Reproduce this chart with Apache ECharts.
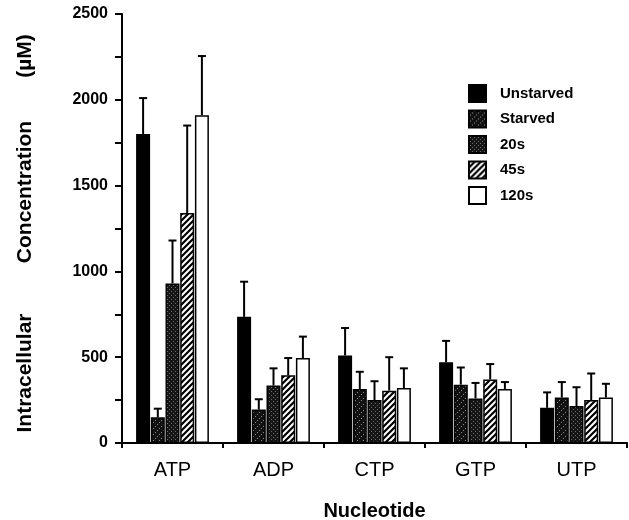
<!DOCTYPE html>
<html>
<head>
<meta charset="utf-8">
<script src="https://cdn.jsdelivr.net/npm/echarts@6/dist/echarts.min.js"></script>
<style>
  html, body { margin: 0; padding: 0; background: #fff; }
  #chart { width: 629px; height: 520px; }
</style>
</head>
<body>
<div id="chart"></div>
<script>
const categories = ['ATP', 'ADP', 'CTP', 'GTP', 'UTP'];
const seriesNames = ['Unstarved', 'Starved', '20s', '45s', '120s'];
// mean values (µM) and upper error (SD) per condition
const unstarved = [1800, 735, 510, 470, 205];
const unstarvedErr = [210, 205, 160, 125, 90];
const starved = [150, 195, 315, 340, 265];
const starvedErr = [50, 60, 100, 100, 90];
const s20 = [930, 335, 250, 260, 215];
const s20Err = [250, 100, 110, 90, 110];
const s45 = [1340, 395, 305, 370, 250];
const s45Err = [510, 100, 195, 90, 155];
const s120 = [1910, 495, 320, 315, 265];
const s120Err = [345, 125, 115, 40, 80];
const yTicks = [0, 500, 1000, 1500, 2000, 2500];

const means = [unstarved, starved, s20, s45, s120];
const errs = [unstarvedErr, starvedErr, s20Err, s45Err, s120Err];

function makePattern(kind) {
  const c = document.createElement('canvas');
  const ctx = c.getContext('2d');
  if (kind === 'starved') {
    c.width = 6; c.height = 6;
    ctx.fillStyle = '#111';
    ctx.fillRect(0, 0, 6, 6);
    ctx.fillStyle = '#8a8a8a';
    ctx.fillRect(5, 0, 1, 1);
    ctx.fillRect(3, 2, 1, 1);
    ctx.fillRect(1, 4, 1, 1);
  } else if (kind === 'stipple') {
    c.width = 4; c.height = 4;
    ctx.fillStyle = '#151515';
    ctx.fillRect(0, 0, 4, 4);
    ctx.fillStyle = '#6e6e6e';
    ctx.fillRect(1, 1, 1, 1);
    ctx.fillRect(3, 3, 1, 1);
  } else {
    c.width = 6; c.height = 6;
    ctx.fillStyle = '#fff';
    ctx.fillRect(0, 0, 6, 6);
    ctx.strokeStyle = '#000';
    ctx.lineWidth = 2.2;
    ctx.beginPath();
    ctx.moveTo(-1, 1); ctx.lineTo(1, -1);
    ctx.moveTo(-1, 7); ctx.lineTo(7, -1);
    ctx.moveTo(5, 7); ctx.lineTo(7, 5);
    ctx.stroke();
  }
  return { image: c, repeat: 'repeat' };
}

const fills = ['#000', makePattern('starved'), makePattern('stipple'), makePattern('hatch'), '#fff'];
const barWidth = 14;
const barStep = barWidth * 1.05;

const barSeries = seriesNames.map((name, i) => ({
  name: name,
  type: 'bar',
  data: means[i],
  barWidth: barWidth,
  barGap: '5%',
  itemStyle: { color: fills[i], borderColor: '#000', borderWidth: 1.5 },
  emphasis: { disabled: true }
}));

const errData = [];
means.forEach((arr, s) => {
  arr.forEach((v, c) => {
    errData.push([c, v, v + errs[s][c], s]);
  });
});

const errSeries = {
  type: 'custom',
  z: 5,
  silent: true,
  data: errData,
  encode: { x: 0, y: [1, 2] },
  renderItem: function (params, api) {
    const base = api.coord([api.value(0), api.value(1)]);
    const top = api.coord([api.value(0), api.value(2)]);
    const x = base[0] + (api.value(3) - 2) * barStep;
    return {
      type: 'group',
      children: [
        { type: 'line', shape: { x1: x, y1: base[1], x2: x, y2: top[1] }, style: { stroke: '#000', lineWidth: 2 } },
        { type: 'line', shape: { x1: x - 4, y1: top[1], x2: x + 4, y2: top[1] }, style: { stroke: '#000', lineWidth: 2 } }
      ]
    };
  }
};

const titleFont = 'bold 21px "Liberation Sans", Arial, sans-serif';
function yTitle(text, y) {
  return {
    type: 'text',
    x: 25,
    y: y,
    rotation: Math.PI / 2,
    style: { text: text, font: titleFont, fill: '#000', textAlign: 'center', textVerticalAlign: 'middle' }
  };
}

const chart = echarts.init(document.getElementById('chart'));
chart.setOption({
  animation: false,
  backgroundColor: '#fff',
  textStyle: { fontFamily: 'Liberation Sans, Arial, sans-serif' },
  grid: { left: 122, right: 2, top: 14, bottom: 77, outerBoundsMode: 'none' },
  legend: {
    data: seriesNames,
    orient: 'vertical',
    left: 463,
    top: 79,
    itemWidth: 17,
    itemHeight: 17,
    itemGap: 6.5,
    icon: 'rect',
    selectedMode: false,
    textStyle: { fontSize: 15, fontWeight: 'bold', color: '#000', padding: [0, 0, 0, 9] }
  },
  xAxis: {
    type: 'category',
    data: categories,
    axisLine: { lineStyle: { color: '#000', width: 2 } },
    axisTick: { show: true, length: 5, lineStyle: { color: '#000', width: 2 } },
    axisLabel: { color: '#000', fontSize: 20, margin: 17 },
    name: 'Nucleotide',
    nameLocation: 'middle',
    nameGap: 58,
    nameTextStyle: { color: '#000', fontSize: 20, fontWeight: 'bold' }
  },
  yAxis: {
    type: 'value',
    min: 0,
    max: 2500,
    interval: 250,
    splitLine: { show: false },
    axisLine: { show: true, lineStyle: { color: '#000', width: 2 } },
    axisTick: { show: true, length: 7, lineStyle: { color: '#000', width: 2 } },
    axisLabel: {
      color: '#000',
      fontSize: 16,
      fontWeight: 'bold',
      margin: 14,
      formatter: v => (yTicks.indexOf(v) >= 0 ? String(v) : '')
    }
  },
  graphic: [
    yTitle('Intracellular', 373),
    yTitle('Concentration', 192),
    yTitle('(µM)', 56)
  ],
  series: barSeries.concat([errSeries])
});
</script>
</body>
</html>
